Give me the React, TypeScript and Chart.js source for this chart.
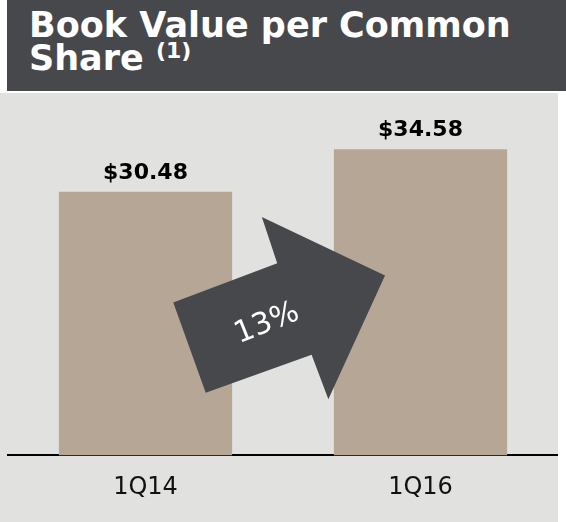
import React, { useEffect, useRef } from "react";
import { Chart, registerables } from "chart.js";

Chart.register(...registerables);

const categories = ["1Q14", "1Q16"];
const bookValues = [30.48, 34.58];
const valueLabels = ["$30.48", "$34.58"];
const growthLabel = "13%";
// arrow outline in chart data space: [category index, value]
const arrowX = [0.101, 0.219, 0.604, 0.665, 0.871, 0.423, 0.479];
const arrowY = [19.82, 11.12, 14.77, 10.48, 22.4, 28.04, 23.59];
const growthLabelAt = [0.442, 17.76];

const BAR = "#b5a696";
const DARK = "#47484c";
const PANEL = "#e1e2e0";

const overlayPlugin = {
  id: "overlay",
  afterDatasetsDraw(chart: any) {
    const ctx = chart.ctx;
    const xs = chart.scales.x;
    const ys = chart.scales.y;
    const meta = chart.getDatasetMeta(0);
    ctx.save();
    ctx.fillStyle = "#000";
    ctx.font = "bold 22px 'DejaVu Sans'";
    ctx.textAlign = "center";
    ctx.textBaseline = "alphabetic";
    meta.data.forEach((bar: any, i: number) => {
      ctx.fillText(valueLabels[i], bar.x, bar.y - 13);
    });
    ctx.beginPath();
    arrowX.forEach((xv, i) => {
      const px = xs.getPixelForValue(xv);
      const py = ys.getPixelForValue(arrowY[i]);
      if (i === 0) ctx.moveTo(px, py);
      else ctx.lineTo(px, py);
    });
    ctx.closePath();
    ctx.fillStyle = DARK;
    ctx.fill();
    const tx = xs.getPixelForValue(growthLabelAt[0]);
    const ty = ys.getPixelForValue(growthLabelAt[1]);
    ctx.translate(tx, ty);
    ctx.rotate((-22 * Math.PI) / 180);
    ctx.fillStyle = "#ffffff";
    ctx.font = "normal 30px 'DejaVu Sans'";
    ctx.textAlign = "center";
    ctx.textBaseline = "middle";
    ctx.fillText(growthLabel, 0, 0);
    ctx.restore();
  },
};

export default function App() {
  const ref = useRef<HTMLCanvasElement | null>(null);
  useEffect(() => {
    if (!ref.current) return;
    const chart = new Chart(ref.current, {
      type: "bar",
      data: {
        labels: categories,
        datasets: [
          {
            data: bookValues,
            backgroundColor: BAR,
            borderWidth: 0,
            categoryPercentage: 1,
            barPercentage: 0.63,
          },
        ],
      },
      options: {
        animation: false,
        responsive: false,
        maintainAspectRatio: false,
        layout: { padding: { left: 8, right: 0, top: 2, bottom: 2 } },
        plugins: { legend: { display: false }, tooltip: { enabled: false } },
        scales: {
          x: {
            grid: { display: false, drawTicks: false },
            border: { display: true, color: "#000", width: 2 },
            ticks: {
              color: "#111",
              padding: 18,
              font: { family: "'DejaVu Sans'", size: 24 },
            },
          },
          y: {
            display: false,
            min: 5.1,
            max: 39.8,
          },
        },
      },
      plugins: [overlayPlugin],
    });
    return () => chart.destroy();
  }, []);

  return (
    <div
      style={{
        position: "absolute",
        left: 0,
        top: 0,
        width: 566,
        height: 522,
        background: "#fff",
        overflow: "hidden",
      }}
    >
      <div
        style={{
          position: "absolute",
          left: 7,
          top: 0,
          width: 559,
          height: 91,
          background: DARK,
          color: "#fff",
          fontFamily: "'DejaVu Sans'",
          fontWeight: "bold",
          fontSize: 35,
          lineHeight: "33px",
          boxSizing: "border-box",
          paddingLeft: 22,
          paddingTop: 9,
          whiteSpace: "nowrap",
        }}
      >
        Book Value per Common
        <br />
        Share{" "}
        <span style={{ fontSize: 22, position: "relative", top: -12 }}>(1)</span>
      </div>
      <div
        style={{
          position: "absolute",
          left: 0,
          top: 93,
          width: 558,
          height: 429,
          background: PANEL,
        }}
      >
        <canvas ref={ref} width={558} height={429} style={{ display: "block" }} />
      </div>
    </div>
  );
}
